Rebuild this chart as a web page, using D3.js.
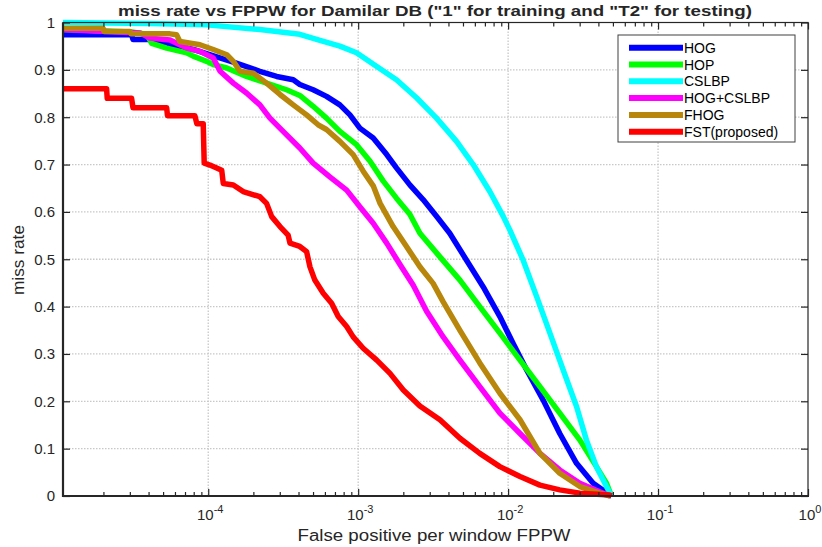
<!DOCTYPE html>
<html>
<head>
<meta charset="utf-8">
<script src="https://cdn.jsdelivr.net/npm/d3@7"></script>
<style>
  body { margin: 0; background: #fff; }
  text { font-family: "Liberation Sans", Arial, sans-serif; fill: #262626; }
</style>
</head>
<body>
<svg id="chart" width="822" height="547"></svg>
<script>
const seriesNames = ["HOG", "HOP", "CSLBP", "HOG+CSLBP", "FHOG", "FST(proposed)"];
const seriesColors = ["#0000ff", "#00ff00", "#00ffff", "#ff00ff", "#b8860b", "#ff0000"];

// false positive per window (x) and miss rate (y)
const hogFppw = [1.075e-5, 3.08e-5, 3.15e-5, 4.08e-5, 7.94e-5, 1.54e-4, 2.21e-4, 2.86e-4, 3.69e-4, 4.08e-4, 5.01e-4, 6.15e-4, 7.55e-4, 8.81e-4, 1.026e-3, 1.26e-3, 1.55e-3, 1.80e-3, 2.21e-3, 2.71e-3, 3.33e-3, 4.08e-3, 5.28e-3, 6.81e-3, 8.81e-3, 1.08e-2, 1.33e-2, 1.71e-2, 2.21e-2, 2.86e-2, 3.69e-2, 4.77e-2, 4.9e-2];
const hogMiss = [0.974, 0.974, 0.964, 0.964, 0.943, 0.914, 0.897, 0.886, 0.879, 0.869, 0.858, 0.844, 0.826, 0.805, 0.777, 0.756, 0.721, 0.693, 0.657, 0.626, 0.591, 0.555, 0.498, 0.442, 0.379, 0.322, 0.266, 0.203, 0.132, 0.069, 0.027, 0.002, 0];

const hopFppw = [1.075e-5, 3.08e-5, 3.90e-5, 4.20e-5, 5.28e-5, 7.18e-5, 7.94e-5, 9.76e-5, 1.08e-4, 1.33e-4, 1.80e-4, 2.45e-4, 3.33e-4, 4.08e-4, 5.01e-4, 6.15e-4, 7.55e-4, 9.75e-4, 1.20e-3, 1.47e-3, 1.80e-3, 2.21e-3, 2.58e-3, 3.51e-3, 4.77e-3, 6.47e-3, 8.81e-3, 1.20e-2, 1.63e-2, 2.21e-2, 3.01e-2, 3.88e-2, 4.53e-2, 4.89e-2];
const hopMiss = [0.985, 0.980, 0.975, 0.956, 0.946, 0.936, 0.929, 0.918, 0.911, 0.904, 0.886, 0.872, 0.858, 0.846, 0.823, 0.798, 0.770, 0.742, 0.707, 0.665, 0.629, 0.595, 0.555, 0.505, 0.456, 0.400, 0.344, 0.287, 0.231, 0.175, 0.118, 0.062, 0.027, 0];

const cslbpFppw = [1.075e-5, 4.08e-5, 9.76e-5, 2.21e-4, 4.08e-4, 5.56e-4, 7.55e-4, 9.75e-4, 1.33e-3, 1.80e-3, 2.45e-3, 3.33e-3, 4.53e-3, 5.85e-3, 7.55e-3, 9.26e-3, 1.026e-2, 1.26e-2, 1.55e-2, 1.90e-2, 2.33e-2, 2.86e-2, 3.33e-2, 3.88e-2, 4.53e-2, 4.89e-2];
const cslbpMiss = [1.0, 0.998, 0.995, 0.985, 0.975, 0.962, 0.950, 0.936, 0.907, 0.879, 0.841, 0.798, 0.749, 0.700, 0.643, 0.591, 0.562, 0.498, 0.421, 0.344, 0.266, 0.189, 0.118, 0.062, 0.020, 0];

const hogCslbpFppw = [1.075e-5, 3.51e-5, 4.08e-5, 5.56e-5, 7.18e-5, 8.81e-5, 1.08e-4, 1.20e-4, 1.47e-4, 1.80e-4, 2.21e-4, 2.58e-4, 3.16e-4, 4.08e-4, 5.01e-4, 6.47e-4, 8.38e-4, 1.026e-3, 1.26e-3, 1.55e-3, 1.90e-3, 2.33e-3, 2.86e-3, 3.69e-3, 4.77e-3, 6.47e-3, 8.81e-3, 1.20e-2, 1.63e-2, 2.21e-2, 3.01e-2, 4.08e-2, 4.8e-2];
const hogCslbpMiss = [0.985, 0.978, 0.967, 0.963, 0.946, 0.939, 0.925, 0.897, 0.872, 0.851, 0.826, 0.798, 0.770, 0.735, 0.703, 0.674, 0.646, 0.611, 0.576, 0.534, 0.489, 0.445, 0.390, 0.336, 0.287, 0.231, 0.175, 0.132, 0.090, 0.055, 0.027, 0.009, 0];

const fhogFppw = [1.075e-5, 1.99e-5, 2.02e-5, 3.01e-5, 3.05e-5, 5.56e-5, 6.15e-5, 6.47e-5, 8.81e-5, 1.08e-4, 1.33e-4, 1.47e-4, 1.63e-4, 2.0e-4, 2.45e-4, 3.01e-4, 3.69e-4, 4.53e-4, 5.41e-4, 6.15e-4, 7.55e-4, 9.26e-4, 1.08e-3, 1.26e-3, 1.40e-3, 1.71e-3, 2.10e-3, 2.58e-3, 3.16e-3, 3.69e-3, 4.77e-3, 6.47e-3, 8.81e-3, 1.20e-2, 1.63e-2, 2.21e-2, 3.01e-2, 4.08e-2, 4.8e-2];
const fhogMiss = [0.988, 0.988, 0.981, 0.981, 0.976, 0.976, 0.974, 0.960, 0.953, 0.943, 0.932, 0.918, 0.897, 0.893, 0.872, 0.848, 0.826, 0.805, 0.784, 0.774, 0.749, 0.721, 0.686, 0.655, 0.618, 0.569, 0.527, 0.484, 0.449, 0.410, 0.350, 0.281, 0.217, 0.161, 0.090, 0.048, 0.020, 0.006, 0];

const fstFppw = [1.075e-5, 2.10e-5, 2.12e-5, 3.08e-5, 3.15e-5, 5.28e-5, 5.35e-5, 8.15e-5, 8.4e-5, 9.26e-5, 9.4e-5, 1.026e-4, 1.23e-4, 1.26e-4, 1.47e-4, 1.71e-4, 2.21e-4, 2.45e-4, 2.65e-4, 3.01e-4, 3.41e-4, 3.51e-4, 4.08e-4, 4.53e-4, 4.77e-4, 5.14e-4, 5.85e-4, 6.65e-4, 7.36e-4, 8.38e-4, 9.26e-4, 1.08e-3, 1.33e-3, 1.63e-3, 2.0e-3, 2.58e-3, 3.51e-3, 4.77e-3, 6.47e-3, 8.81e-3, 1.20e-2, 1.63e-2, 2.21e-2, 3.01e-2, 4.77e-2, 4.9e-2];
const fstMiss = [0.86, 0.86, 0.84, 0.84, 0.82, 0.82, 0.803, 0.803, 0.786, 0.786, 0.703, 0.699, 0.688, 0.660, 0.657, 0.643, 0.632, 0.618, 0.590, 0.569, 0.551, 0.534, 0.527, 0.516, 0.484, 0.456, 0.428, 0.407, 0.379, 0.358, 0.336, 0.312, 0.287, 0.259, 0.224, 0.190, 0.161, 0.122, 0.090, 0.062, 0.041, 0.023, 0.013, 0.006, 0.002, 0];

const yTicks = [0, 0.1, 0.2, 0.3, 0.4, 0.5, 0.6, 0.7, 0.8, 0.9, 1];
const xMajor = [1e-4, 1e-3, 1e-2, 1e-1, 1];
const xMajorExp = ["-4", "-3", "-2", "-1", "0"];

const fppwAll = [hogFppw, hopFppw, cslbpFppw, hogCslbpFppw, fhogFppw, fstFppw];
const missAll = [hogMiss, hopMiss, cslbpMiss, hogCslbpMiss, fhogMiss, fstMiss];

const plotL = 63, plotR = 808, plotT = 22.5, plotB = 496;
const svg = d3.select("#chart");

const x = d3.scaleLog().domain([1.075e-5, 1]).range([plotL, plotR]);
const y = d3.scaleLinear().domain([0, 1]).range([plotB, plotT]);

// grid
const grid = svg.append("g").attr("stroke", "#c8c8c8").attr("stroke-width", 1.3).attr("stroke-dasharray", "1.5,1.5");
grid.selectAll(".gx").data(xMajor.slice(0, 4)).enter().append("line")
  .attr("x1", (d) => x(d)).attr("x2", (d) => x(d)).attr("y1", plotT).attr("y2", plotB);
grid.selectAll(".gy").data(yTicks.slice(1, 10)).enter().append("line")
  .attr("x1", plotL).attr("x2", plotR).attr("y1", (d) => y(d)).attr("y2", (d) => y(d));

// curves
const line = d3.line().x((d) => x(d[0])).y((d) => y(d[1]));
fppwAll.forEach((xs, i) => {
  const pts = xs.map((v, j) => [v, missAll[i][j]]);
  svg.append("path")
    .attr("d", line(pts))
    .attr("fill", "none")
    .attr("stroke", seriesColors[i])
    .attr("stroke-width", 5.5)
    .attr("stroke-linejoin", "round");
});

// axes box and ticks
const minor = x.ticks().filter((d) => !xMajor.includes(d));
const axCol = "#262626";
function tickGroup(axis, tx, ty) {
  const g = svg.append("g").attr("transform", `translate(${tx},${ty})`).call(axis);
  g.select(".domain").remove();
  g.selectAll("line").attr("stroke", axCol).attr("stroke-width", 1.2);
  g.selectAll("text").remove();
  return g;
}
tickGroup(d3.axisBottom(x).tickValues(minor).tickSize(-4), 0, plotB);
tickGroup(d3.axisBottom(x).tickValues(xMajor).tickSize(-7), 0, plotB);
tickGroup(d3.axisTop(x).tickValues(minor).tickSize(-4), 0, plotT);
tickGroup(d3.axisTop(x).tickValues(xMajor).tickSize(-7), 0, plotT);
tickGroup(d3.axisLeft(y).tickValues(yTicks).tickSize(-7), plotL, 0);
tickGroup(d3.axisRight(y).tickValues(yTicks).tickSize(-7), plotR, 0);

svg.append("rect").attr("x", plotL).attr("y", plotT).attr("width", plotR - plotL).attr("height", plotB - plotT)
  .attr("fill", "none").attr("stroke", axCol).attr("stroke-width", 1.2);
svg.append("line").attr("x1", plotL).attr("x2", plotL).attr("y1", plotT).attr("y2", plotB + 1)
  .attr("stroke", axCol).attr("stroke-width", 2.2);
svg.append("line").attr("x1", plotL - 1).attr("x2", plotR + 1).attr("y1", plotB).attr("y2", plotB)
  .attr("stroke", axCol).attr("stroke-width", 2.2);

// tick labels
svg.selectAll(".ylab").data(yTicks).enter().append("text")
  .attr("x", 55).attr("y", (d) => y(d)).attr("dy", "0.36em")
  .attr("text-anchor", "end").attr("font-size", 15)
  .text((d) => d);

const xl = svg.selectAll(".xlab").data(xMajor).enter().append("text")
  .attr("x", (d) => x(d) + 2).attr("y", 520)
  .attr("text-anchor", "middle").attr("font-size", 15);
xl.append("tspan").text("10");
xl.append("tspan").attr("dy", -7).attr("font-size", 11).text((d, i) => xMajorExp[i]);

// title and axis labels
svg.append("text").attr("x", 435).attr("y", 16).attr("text-anchor", "middle")
  .attr("font-size", 15).attr("font-weight", "bold")
  .attr("textLength", 634).attr("lengthAdjust", "spacingAndGlyphs")
  .text("miss rate vs FPPW for Damilar DB (\"1\" for training and \"T2\" for testing)");
svg.append("text").attr("x", 434).attr("y", 541).attr("text-anchor", "middle")
  .attr("font-size", 16).attr("textLength", 273).attr("lengthAdjust", "spacingAndGlyphs")
  .text("False positive per window FPPW");
svg.append("text").attr("transform", "translate(24,260) rotate(-90)").attr("text-anchor", "middle")
  .attr("font-size", 17).attr("textLength", 70).attr("lengthAdjust", "spacingAndGlyphs")
  .text("miss rate");

// legend
const lg = svg.append("g").attr("transform", "translate(618,35)");
lg.append("rect").attr("width", 177).attr("height", 107).attr("fill", "#fff")
  .attr("stroke", "#404040").attr("stroke-width", 1);
seriesNames.forEach((name, i) => {
  const ly = 12.7 + i * 16.8;
  lg.append("line").attr("x1", 11).attr("x2", 65).attr("y1", ly).attr("y2", ly)
    .attr("stroke", seriesColors[i]).attr("stroke-width", 6);
  lg.append("text").attr("x", 66).attr("y", ly).attr("dy", "0.36em")
    .attr("font-size", 14).style("fill", "#000").text(name);
});
</script>
</body>
</html>
